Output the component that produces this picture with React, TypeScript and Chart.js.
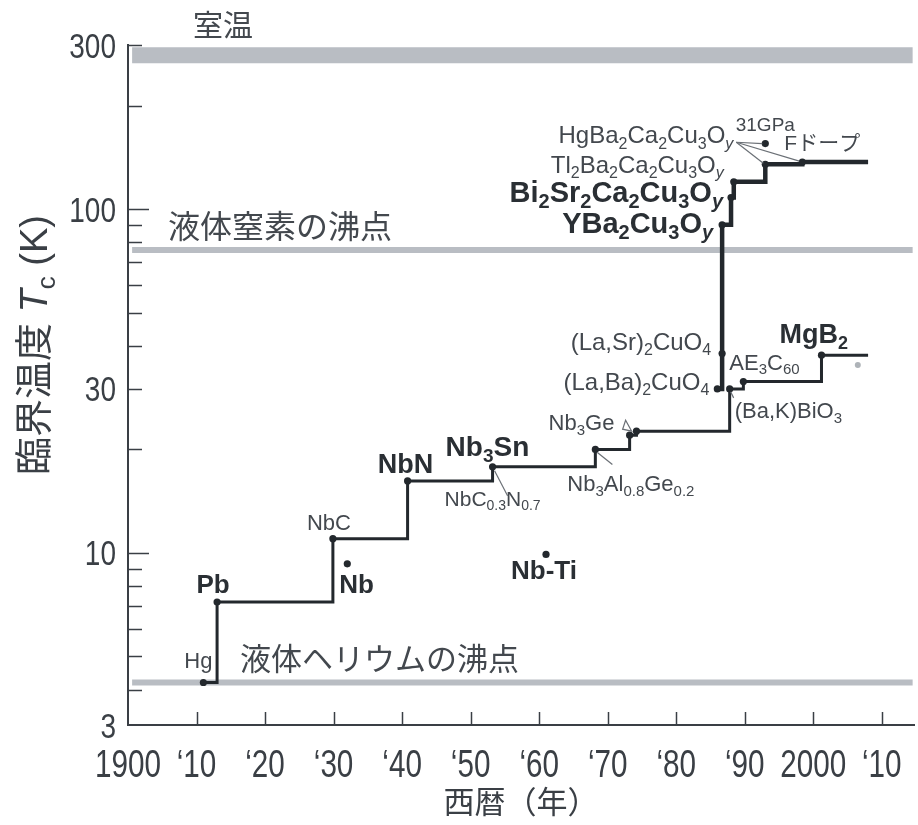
import React, { useEffect, useRef } from 'react';
import { Chart, registerables } from 'chart.js';

Chart.register(...registerables);

// ---------- data ----------
const xMin = 1900;
const xMax = 2014.7;
const xTickValues = [1900, 1910, 1920, 1930, 1940, 1950, 1960, 1970, 1980, 1990, 2000, 2010];
const xTickLabels = ['1900', '‘10', '‘20', '‘30', '‘40', '‘50', '‘60', '‘70', '‘80', '‘90', '2000', '‘10'];

const yMin = 3.16;
const yMax = 300;
const yTickValues = [yMin, 10, 30, 100, 300];
const yTickLabels = ['3', '10', '30', '100', '300'];
const yShortTicks = [4, 5, 6, 7, 8, 9, 20, 30, 40, 50, 60, 70, 80, 90, 200, 300];
const yLongTicks = [10, 100];

// metals, alloys, BKBO, fullerenes, MgB2 (record line)
const conventionalYears = [1911, 1913, 1929.9, 1940.8, 1953.2, 1968.2, 1973.2, 1974.2, 1987.8, 1989.8, 2001.2, 2008];
const conventionalTc = [4.2, 7.2, 11, 16.2, 17.8, 20, 22, 22.6, 30, 31.5, 37.6, 37.6];

// copper oxides (record line)
const cuprateYears = [1986.0, 1986.7, 1986.7, 1988.0, 1988.4, 1993.0, 1998.4, 2008];
const cuprateTc = [30, 38, 90, 108, 120, 135, 137, 137];

// separate points: Nb, Nb-Ti, Hg-1223 under 31 GPa
const isolatedYears = [1932, 1961, 1993];
const isolatedTc = [9.3, 9.9, 155];

// faint point
const faintYears = [2006.5];
const faintTc = [35.2];

// reference temperatures
const bandNames = ['室温', '液体窒素の沸点', '液体ヘリウムの沸点'];
const bandTc = [280, 76, 4.2];

// ---------- styles ----------
const axisColor = '#3a3f45';
const lineColor = '#23282d';
const bandColor = '#b9bdc3';
const labelColor = '#43484e';
const boldColor = '#2a2f34';
const tickFamily = '"Liberation Sans", Arial, sans-serif';
const labelFamily = '"Liberation Sans", "Noto Sans CJK JP", sans-serif';
const cjkFamily = '"Noto Sans CJK JP", sans-serif';

type P = [number, number];
const conv = (i: number): P => [conventionalYears[i], conventionalTc[i]];
const cup = (i: number): P => [cuprateYears[i], cuprateTc[i]];
const iso = (i: number): P => [isolatedYears[i], isolatedTc[i]];

interface Leader { from: [number, number]; to: P; toOff: [number, number] }
interface Ann {
  text: string; at: P; dx: number; dy: number; align: 'left' | 'right' | 'center';
  size: number; bold?: boolean; leaders?: Leader[]; arrow?: boolean;
}

const materialLabels: Ann[] = [
  { text: 'Hg', at: conv(0), dx: 9, dy: -15, align: 'right', size: 22 },
  { text: 'Pb', at: conv(1), dx: -4, dy: -9, align: 'center', size: 26, bold: true },
  { text: 'NbC', at: conv(2), dx: -4, dy: -9, align: 'center', size: 22 },
  { text: 'Nb', at: iso(0), dx: -8, dy: 29, align: 'left', size: 26, bold: true },
  { text: 'NbN', at: conv(3), dx: -2, dy: -8, align: 'center', size: 27, bold: true },
  { text: 'Nb_{3}Sn', at: conv(4), dx: -47, dy: -11, align: 'left', size: 28, bold: true },
  { text: 'NbC_{0.3}N_{0.7}', at: conv(4), dx: -48, dy: 39, align: 'left', size: 21,
    leaders: [{ from: [15, 29], to: conv(4), toOff: [2, 4] }] },
  { text: 'Nb_{3}Al_{0.8}Ge_{0.2}', at: conv(5), dx: -28, dy: 42, align: 'left', size: 22,
    leaders: [{ from: [17, 15], to: conv(5), toOff: [2, 3] }] },
  { text: 'Nb_{3}Ge', at: conv(6), dx: -81, dy: -5, align: 'left', size: 22, arrow: true },
  { text: '(Ba,K)BiO_{3}', at: conv(8), dx: 5, dy: 29, align: 'left', size: 22,
    leaders: [{ from: [4, 9], to: conv(8), toOff: [1, 3] }] },
  { text: 'AE_{3}C_{60}', at: conv(9), dx: -14, dy: -12, align: 'left', size: 22 },
  { text: 'MgB_{2}', at: conv(10), dx: -42, dy: -12, align: 'left', size: 27, bold: true },
  { text: '(La,Ba)_{2}CuO_{4}', at: cup(0), dx: -8, dy: 1, align: 'right', size: 24 },
  { text: '(La,Sr)_{2}CuO_{4}', at: cup(1), dx: -11, dy: -4, align: 'right', size: 24 },
  { text: 'YBa_{2}Cu_{3}O_{*y*}', at: cup(2), dx: -9, dy: 8, align: 'right', size: 29, bold: true },
  { text: 'Bi_{2}Sr_{2}Ca_{2}Cu_{3}O_{*y*}', at: cup(3), dx: -8, dy: 4, align: 'right', size: 29, bold: true },
  { text: 'Tl_{2}Ba_{2}Ca_{2}Cu_{3}O_{*y*}', at: cup(4), dx: -10, dy: -9, align: 'right', size: 24 },
  { text: 'HgBa_{2}Ca_{2}Cu_{3}O_{*y*}', at: cup(5), dx: -32, dy: -21, align: 'right', size: 24,
    leaders: [
      { from: [-29, -22], to: iso(2), toOff: [-3, 0] },
      { from: [-29, -22], to: cup(5), toOff: [-2, -1] },
      { from: [-29, -22], to: cup(6), toOff: [-3, -1] },
    ] },
  { text: '31GPa', at: iso(2), dx: 0, dy: -13, align: 'center', size: 19 },
  { text: 'Fドープ', at: cup(6), dx: -18, dy: -12, align: 'left', size: 21 },
  { text: 'Nb-Ti', at: iso(1), dx: -35, dy: 25, align: 'left', size: 26, bold: true },
];

// band label placement: left offset from plot left, baseline offset from band
const bandLabelLayout: { dx: number; dy: number; size: number }[] = [
  { dx: 65, dy: -19, size: 30 },
  { dx: 40, dy: -12, size: 32 },
  { dx: 112, dy: -13, size: 31 },
];

// ---------- rich text ----------
interface Run { t: string; sub: boolean; it: boolean }
function parseRich(s: string): Run[] {
  const runs: Run[] = [];
  let italic = false;
  let buf = '';
  const flush = () => { if (buf) { runs.push({ t: buf, sub: false, it: italic }); buf = ''; } };
  let i = 0;
  while (i < s.length) {
    const ch = s[i];
    if (ch === '_' && s[i + 1] === '{') {
      flush();
      const end = s.indexOf('}', i);
      const inner = s.slice(i + 2, end);
      inner.split('*').forEach((p, k) => {
        if (k > 0) italic = !italic;
        if (p) runs.push({ t: p, sub: true, it: italic });
      });
      i = end + 1;
      continue;
    }
    if (ch === '*') { flush(); italic = !italic; i++; continue; }
    buf += ch;
    i++;
  }
  flush();
  return runs;
}

function drawRich(
  ctx: CanvasRenderingContext2D, s: string, x: number, y: number,
  size: number, bold: boolean, align: 'left' | 'right' | 'center', color: string, family: string,
) {
  const runs = parseRich(s);
  const fontFor = (r: Run) =>
    `${r.it ? 'italic ' : ''}${bold ? 'bold ' : ''}${r.sub ? Math.round(size * 0.68) : size}px ${family}`;
  let total = 0;
  const widths = runs.map((r) => { ctx.font = fontFor(r); const w = ctx.measureText(r.t).width; total += w; return w; });
  let cx = align === 'right' ? x - total : align === 'center' ? x - total / 2 : x;
  ctx.textAlign = 'left';
  ctx.textBaseline = 'alphabetic';
  ctx.fillStyle = color;
  runs.forEach((r, k) => {
    ctx.font = fontFor(r);
    ctx.fillText(r.t, cx, y + (r.sub ? size * 0.22 : 0));
    cx += widths[k];
  });
}

// condensed tick text (horizontally squeezed)
function drawCondensed(
  ctx: CanvasRenderingContext2D, text: string, x: number, y: number,
  size: number, sx: number, align: 'left' | 'right' | 'center',
) {
  ctx.save();
  ctx.translate(x, y);
  ctx.scale(sx, 1);
  ctx.font = `${size}px ${tickFamily}`;
  ctx.textAlign = align;
  ctx.textBaseline = 'alphabetic';
  ctx.fillStyle = '#3a3f45';
  ctx.fillText(text, 0, 0);
  ctx.restore();
}

// ---------- overlay plugin ----------
const overlayPlugin = {
  id: 'overlay',
  afterDraw(chart: any) {
    const { ctx, chartArea } = chart;
    const xs = chart.scales.x;
    const ys = chart.scales.y;
    const px = (v: number) => xs.getPixelForValue(v);
    const py = (v: number) => ys.getPixelForValue(v);
    ctx.save();

    // inward tick marks
    ctx.strokeStyle = axisColor;
    ctx.lineWidth = 1.5;
    xTickValues.forEach((v) => {
      if (v === xMin) return;
      const X = Math.round(px(v)) + 0.5;
      ctx.beginPath();
      ctx.moveTo(X, chartArea.bottom);
      ctx.lineTo(X, chartArea.bottom - 13);
      ctx.stroke();
    });
    yShortTicks.forEach((v) => {
      const Y = Math.round(py(v)) + 0.5;
      ctx.beginPath();
      ctx.moveTo(chartArea.left, Y);
      ctx.lineTo(chartArea.left + 14, Y);
      ctx.stroke();
    });
    yLongTicks.forEach((v) => {
      const Y = Math.round(py(v)) + 0.5;
      ctx.beginPath();
      ctx.moveTo(chartArea.left, Y);
      ctx.lineTo(chartArea.left + 21, Y);
      ctx.stroke();
    });

    // tick labels (condensed)
    xs.ticks.forEach((t: any, i: number) => {
      drawCondensed(ctx, xTickLabels[i], px(t.value), chartArea.bottom + 52, 38, 0.78, 'center');
    });
    ys.ticks.forEach((t: any, i: number) => {
      drawCondensed(ctx, yTickLabels[i], chartArea.left - 12, py(t.value) + 12.5, 35, 0.8, 'right');
    });

    // band labels
    bandNames.forEach((name, i) => {
      const L = bandLabelLayout[i];
      drawRich(ctx, name, chartArea.left + L.dx, py(bandTc[i]) + L.dy, L.size, false, 'left', labelColor, cjkFamily);
    });

    // leaders and arrow
    ctx.strokeStyle = '#6b7076';
    ctx.lineWidth = 1.2;
    materialLabels.forEach((a) => {
      const ax = px(a.at[0]);
      const ay = py(a.at[1]);
      (a.leaders || []).forEach((l) => {
        ctx.beginPath();
        ctx.moveTo(ax + l.from[0], ay + l.from[1]);
        ctx.lineTo(px(l.to[0]) + l.toOff[0], py(l.to[1]) + l.toOff[1]);
        ctx.stroke();
      });
      if (a.arrow) {
        ctx.beginPath();
        ctx.moveTo(ax - 4, ay - 15);
        ctx.lineTo(ax - 7, ay - 6);
        ctx.lineTo(ax + 2, ay - 4);
        ctx.closePath();
        ctx.stroke();
      }
    });

    // material labels
    materialLabels.forEach((a) => {
      const ax = px(a.at[0]);
      const ay = py(a.at[1]);
      drawRich(ctx, a.text, ax + a.dx, ay + a.dy, a.size, !!a.bold, a.align,
        a.bold ? boldColor : labelColor, labelFamily);
    });

    // axis titles
    ctx.save();
    ctx.translate(31, 345);
    ctx.rotate(-Math.PI / 2);
    drawRich(ctx, '臨界温度 *T*_{c} (K)', 0, 16, 38, false, 'center', '#3a3f45', labelFamily);
    ctx.restore();
    drawRich(ctx, '西暦（年）', 521, 813, 31, false, 'center', '#3a3f45', cjkFamily);

    ctx.restore();
  },
};

export default function App() {
  const ref = useRef<HTMLCanvasElement>(null);

  useEffect(() => {
    const canvas = ref.current;
    if (!canvas) return;

    const toPts = (xs: number[], ys: number[]) => xs.map((x, i) => ({ x, y: ys[i] }));
    const bandSets = bandTc.map((t, i) => ({
      label: bandNames[i],
      data: [{ x: xMin + 0.6, y: t }, { x: xMax - 0.2, y: t }],
      borderColor: bandColor,
      borderWidth: i === 0 ? 16 : 6,
      pointRadius: 0,
      order: 10,
    }));

    const lastIdxRadius = (n: number) => (c: any) => (c.dataIndex === n - 1 ? 0 : 3.6);

    const chart = new Chart(canvas, {
      type: 'line',
      data: {
        datasets: [
          ...bandSets,
          {
            label: 'conventional',
            data: toPts(conventionalYears, conventionalTc),
            stepped: 'before',
            borderColor: lineColor,
            borderWidth: 3,
            pointRadius: lastIdxRadius(conventionalYears.length),
            pointBackgroundColor: lineColor,
            pointBorderColor: lineColor,
            pointBorderWidth: 0,
            order: 2,
          },
          {
            label: 'cuprates',
            data: toPts(cuprateYears, cuprateTc),
            stepped: 'before',
            borderColor: lineColor,
            borderWidth: 4.5,
            pointRadius: lastIdxRadius(cuprateYears.length),
            pointBackgroundColor: lineColor,
            pointBorderColor: lineColor,
            pointBorderWidth: 0,
            order: 1,
          },
          {
            label: 'isolated',
            data: toPts(isolatedYears, isolatedTc),
            showLine: false,
            pointRadius: 3.6,
            pointBackgroundColor: lineColor,
            pointBorderColor: lineColor,
            pointBorderWidth: 0,
            order: 0,
          },
          {
            label: 'faint',
            data: toPts(faintYears, faintTc),
            showLine: false,
            pointRadius: 3,
            pointBackgroundColor: '#aeb3b8',
            pointBorderColor: '#aeb3b8',
            pointBorderWidth: 0,
            order: 0,
          },
        ] as any,
      },
      options: {
        animation: false,
        responsive: false,
        devicePixelRatio: 1,
        layout: { padding: { top: 45, right: 0, bottom: 0, left: 0 } },
        plugins: {
          legend: { display: false },
          tooltip: { enabled: false },
          title: { display: false },
        },
        scales: {
          x: {
            type: 'linear',
            min: xMin,
            max: xMax,
            afterBuildTicks: (s: any) => { s.ticks = xTickValues.map((v) => ({ value: v })); },
            afterFit: (s: any) => { s.height = 100; },
            grid: { display: false, drawTicks: false },
            border: { display: true, color: axisColor, width: 2 },
            ticks: { display: false, autoSkip: false, maxRotation: 0, minRotation: 0 },
          },
          y: {
            type: 'logarithmic',
            min: yMin,
            max: yMax,
            afterBuildTicks: (s: any) => { s.ticks = yTickValues.map((v) => ({ value: v })); },
            afterFit: (s: any) => { s.width = 128; },
            grid: { display: false, drawTicks: false },
            border: { display: true, color: axisColor, width: 2 },
            ticks: { display: false, autoSkip: false },
          },
        },
      } as any,
      plugins: [overlayPlugin],
    });

    return () => chart.destroy();
  }, []);

  return (
    <div style={{ position: 'absolute', left: 0, top: 0, width: 918, height: 825, background: '#ffffff' }}>
      <canvas ref={ref} width={918} height={825} style={{ display: 'block', width: 918, height: 825 }} />
    </div>
  );
}
